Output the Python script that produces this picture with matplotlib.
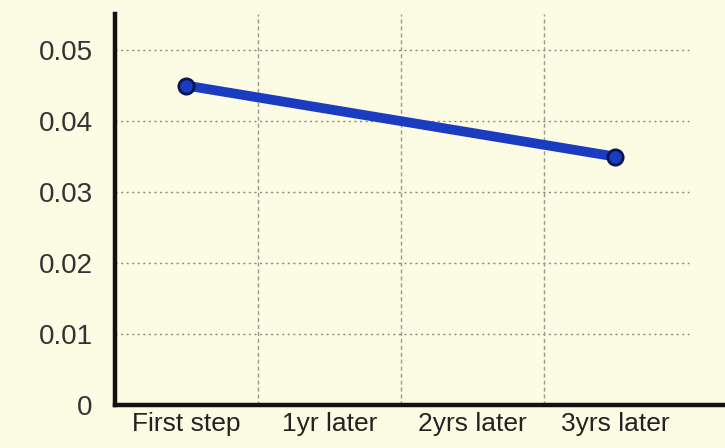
import matplotlib.pyplot as plt

# values
categories = ["First step", "1yr later", "2yrs later", "3yrs later"]
point_idx = [0, 3]
point_vals = [0.045, 0.035]
y_ticks = [0, 0.01, 0.02, 0.03, 0.04, 0.05]
y_labels = ["0", "0.01", "0.02", "0.03", "0.04", "0.05"]

bg = "#fcfbe4"

fig = plt.figure(figsize=(7.25, 4.48), dpi=100)
fig.patch.set_facecolor(bg)
ax = fig.add_axes([0.1586, 0.096, 0.8414, 0.873])
ax.set_facecolor(bg)

ax.set_xlim(-0.5, 3.77)
ax.set_ylim(0, 0.0551)

# grid: dotted horizontals, dashed verticals between categories
for y in y_ticks[1:]:
    ax.plot([-0.5, 3.52], [y, y], color="#8a8a80", lw=1.0, ls=(0, (1.5, 2.5)), zorder=1)
for x in [0.5, 1.5, 2.5]:
    ax.axvline(x, color="#9a9a90", lw=1.0, ls=(0, (3, 2)), zorder=1)

ax.plot(point_idx, point_vals, color="#1a3cc0", lw=7, solid_capstyle="round",
        marker="o", ms=11, mfc="#1a3cc0", mec="#0a1650", mew=2, zorder=3)

ax.set_yticks(y_ticks)
ax.set_yticklabels(y_labels, fontsize=20, color="#333333", family="Liberation Sans")
ax.set_xticks(range(len(categories)))
ax.set_xticklabels(categories, fontsize=19, color="#222222", family="Liberation Sans")
ax.tick_params(axis="y", length=0, pad=16)
ax.tick_params(axis="x", length=0, pad=5)

for s in ["top", "right"]:
    ax.spines[s].set_visible(False)
for s in ["left", "bottom"]:
    ax.spines[s].set_linewidth(3.2)
    ax.spines[s].set_color("#111111")

fig.savefig("out.png", dpi=100, facecolor=bg)
